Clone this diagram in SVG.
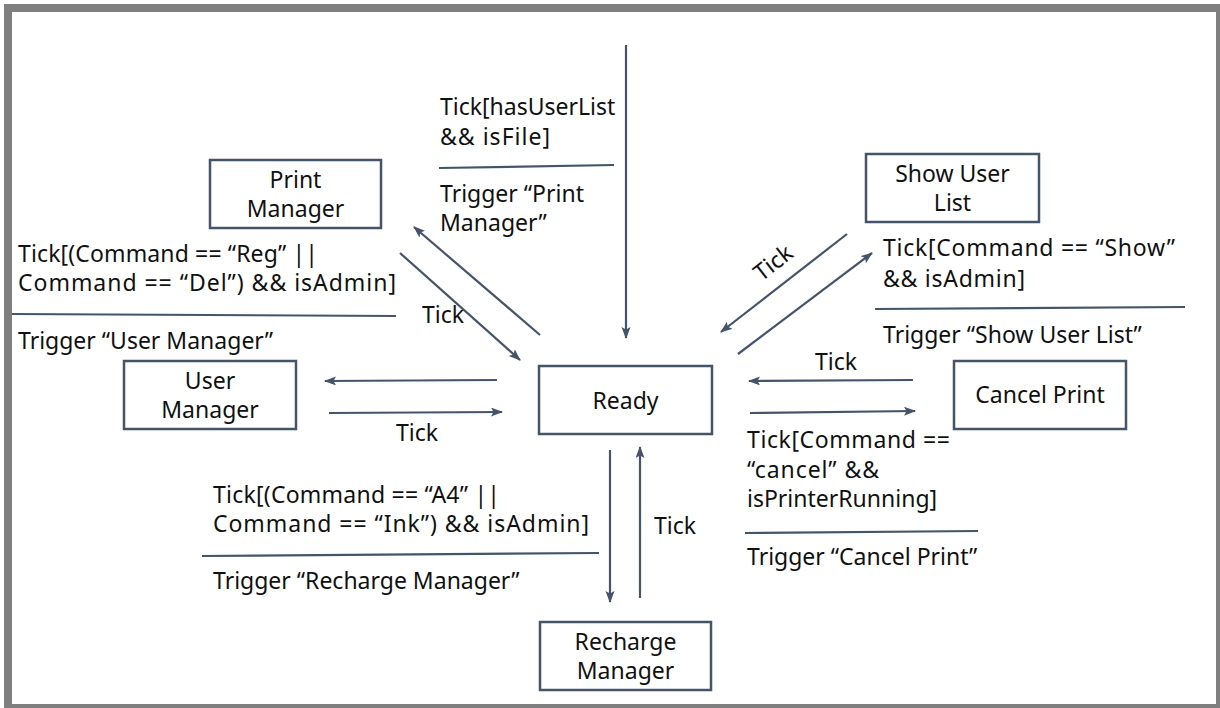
<svg xmlns="http://www.w3.org/2000/svg" width="1220" height="708" viewBox="0 0 1220 708">
<defs>
<marker id="ah" markerWidth="12" markerHeight="10" refX="11" refY="4.5" orient="auto" markerUnits="userSpaceOnUse">
<path d="M0,0 L12,4.5 L0,9 L2.5,4.5 z" fill="#44546A"/>
</marker>
<style>
text{font-family:"Noto Sans","Open Sans","Liberation Sans",sans-serif;font-size:23px;fill:#111}
.c{text-anchor:middle}
.box{fill:#fff;stroke:#44546A;stroke-width:2.5}
.sep{stroke:#44546A;stroke-width:2.2;fill:none}
.arr{stroke:#44546A;stroke-width:2.2;fill:none;marker-end:url(#ah)}
</style>
</defs>
<rect x="0" y="0" width="1220" height="708" fill="#fff"/>
<rect x="4" y="4" width="1216" height="704" fill="#7f7f7f"/>
<rect x="12" y="12" width="1204" height="692" fill="#fff"/>

<g id="connectors">
<line class="arr" x1="626" y1="45" x2="626" y2="338"/>
<line class="arr" x1="540" y1="335" x2="414" y2="227"/>
<line class="arr" x1="400" y1="253" x2="520" y2="360"/>
<line class="arr" x1="497" y1="380" x2="325" y2="381"/>
<line class="arr" x1="329" y1="413" x2="502" y2="412"/>
<line class="arr" x1="847" y1="234" x2="721" y2="332"/>
<line class="arr" x1="738" y1="354" x2="872" y2="253"/>
<line class="arr" x1="913" y1="380" x2="749" y2="381"/>
<line class="arr" x1="750" y1="413" x2="915" y2="411"/>
<line class="arr" x1="610" y1="450" x2="610" y2="602"/>
<line class="arr" x1="640" y1="598" x2="640" y2="447"/>
</g>

<g id="labels">
<text x="440" y="115">Tick[hasUserList</text>
<text x="440" y="145" textLength="110" lengthAdjust="spacing">&amp;&amp; isFile]</text>
<line class="sep" x1="439" y1="168" x2="614" y2="165"/>
<text x="440" y="202">Trigger “Print</text>
<text x="440" y="231">Manager”</text>

<text x="18" y="262" textLength="300" lengthAdjust="spacing">Tick[(Command == “Reg” ||</text>
<text x="18" y="291" textLength="378" lengthAdjust="spacing">Command == “Del”) &amp;&amp; isAdmin]</text>
<line class="sep" x1="12" y1="314" x2="396" y2="316"/>
<text x="18" y="349">Trigger “User Manager”</text>
<text x="422" y="323">Tick</text>
<text x="396" y="441">Tick</text>

<text x="883" y="256" textLength="292" lengthAdjust="spacing">Tick[Command == “Show”</text>
<text x="883" y="287" textLength="142" lengthAdjust="spacing">&amp;&amp; isAdmin]</text>
<line class="sep" x1="875" y1="309" x2="1185" y2="307"/>
<text x="883" y="343">Trigger “Show User List”</text>
<text class="c" x="0" y="0" transform="translate(778,269) rotate(-38)">Tick</text>
<text x="815" y="370">Tick</text>

<text x="747" y="448" textLength="203" lengthAdjust="spacing">Tick[Command ==</text>
<text x="747" y="478" textLength="132" lengthAdjust="spacing">“cancel” &amp;&amp;</text>
<text x="747" y="507">isPrinterRunning]</text>
<line class="sep" x1="745" y1="533" x2="978" y2="531"/>
<text x="747" y="565">Trigger “Cancel Print”</text>
<text x="654" y="534">Tick</text>

<text x="213" y="503" textLength="287" lengthAdjust="spacing">Tick[(Command == “A4” ||</text>
<text x="213" y="532" textLength="376" lengthAdjust="spacing">Command == “Ink”) &amp;&amp; isAdmin]</text>
<line class="sep" x1="202" y1="556" x2="599" y2="553"/>
<text x="213" y="589">Trigger “Recharge Manager”</text>
</g>

<g id="node-print-manager">
<rect class="box" x="210" y="160" width="171" height="68"/>
<text class="c" x="295.5" y="188">Print</text>
<text class="c" x="295.5" y="217">Manager</text>
</g>
<g id="node-show-user-list">
<rect class="box" x="866" y="154" width="173" height="68"/>
<text class="c" x="952.5" y="182">Show User</text>
<text class="c" x="952.5" y="211">List</text>
</g>
<g id="node-user-manager">
<rect class="box" x="124" y="361" width="172" height="68"/>
<text class="c" x="210" y="389">User</text>
<text class="c" x="210" y="418">Manager</text>
</g>
<g id="node-ready">
<rect class="box" x="539" y="366" width="173" height="68"/>
<text class="c" x="625.5" y="409">Ready</text>
</g>
<g id="node-cancel-print">
<rect class="box" x="954" y="361" width="172" height="68"/>
<text class="c" x="1040" y="403">Cancel Print</text>
</g>
<g id="node-recharge-manager">
<rect class="box" x="540" y="622" width="171" height="68"/>
<text class="c" x="625.5" y="650">Recharge</text>
<text class="c" x="625.5" y="679">Manager</text>
</g>
</svg>
